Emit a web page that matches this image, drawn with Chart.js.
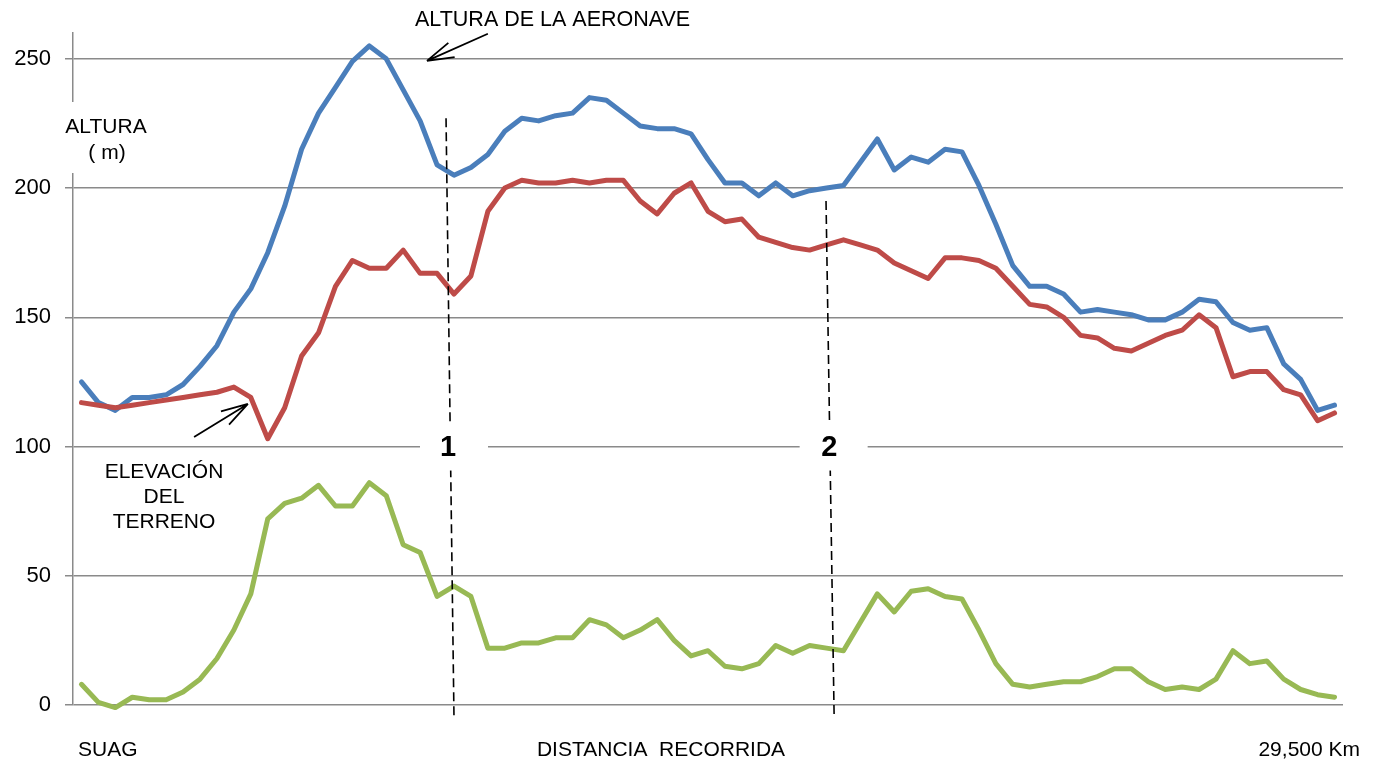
<!DOCTYPE html>
<html>
<head>
<meta charset="utf-8">
<script src="https://cdn.jsdelivr.net/npm/chart.js@4.4.1/dist/chart.umd.min.js"></script>
<style>
  body { margin: 0; background: #fff; }
  #caja { width: 1376px; height: 762px; }
</style>
</head>
<body>
<div id="caja"><canvas id="grafico"></canvas></div>
<script>
// puntos de muestreo a lo largo del recorrido SUAG -> 29,500 Km
const puntos = [1, 2, 3, 4, 5, 6, 7, 8, 9, 10, 11, 12, 13, 14, 15, 16, 17, 18, 19, 20,
  21, 22, 23, 24, 25, 26, 27, 28, 29, 30, 31, 32, 33, 34, 35, 36, 37, 38, 39, 40,
  41, 42, 43, 44, 45, 46, 47, 48, 49, 50, 51, 52, 53, 54, 55, 56, 57, 58, 59, 60,
  61, 62, 63, 64, 65, 66, 67, 68, 69, 70, 71, 72, 73, 74, 75];

const alturaAeronave = [125, 117, 114, 119, 119, 120, 124, 131, 139, 152,
  161, 175, 193, 215, 229, 239, 249, 255, 250, 238,
  226, 209, 205, 208, 213, 222, 227, 226, 228, 229,
  235, 234, 229, 224, 223, 223, 221, 211, 202, 202,
  197, 202, 197, 199, 200, 201, 210, 219, 207, 212,
  210, 215, 214, 201, 186, 170, 162, 162, 159, 152,
  153, 152, 151, 149, 149, 152, 157, 156, 148, 145,
  146, 132, 126, 114, 116];

const elevacionTerreno = [117, 116, 115, 116, 117, 118, 119, 120, 121, 123,
  119, 103, 115, 135, 144, 162, 172, 169, 169, 176,
  167, 167, 159, 166, 191, 200, 203, 202, 202, 203,
  202, 203, 203, 195, 190, 198, 202, 191, 187, 188,
  181, 179, 177, 176, 178, 180, 178, 176, 171, 168,
  165, 173, 173, 172, 169, 162, 155, 154, 150, 143,
  142, 138, 137, 140, 143, 145, 151, 146, 127, 129,
  129, 122, 120, 110, 113];

const alturaSobreTerreno = [8, 1, -1, 3, 2, 2, 5, 10, 18, 29,
  43, 72, 78, 80, 85, 77, 77, 86, 81, 62,
  59, 42, 46, 42, 22, 22, 24, 24, 26, 26,
  33, 31, 26, 29, 33, 25, 19, 21, 15, 14,
  16, 23, 20, 23, 22, 21, 32, 43, 36, 44,
  45, 42, 41, 29, 16, 8, 7, 8, 9, 9,
  11, 14, 14, 9, 6, 7, 6, 10, 21, 16,
  17, 10, 6, 4, 3];

const ticksAltura = [0, 50, 100, 150, 200, 250];

// lineas de trazos 1 y 2 (indice de punto, altura)
const marcas = [
  { texto: '1', arriba: [21.53, 227], abajo: [22.0, -5], caja: [22.0, 100], etiqueta: [21.65, 99.3] },
  { texto: '2', arriba: [43.97, 195], abajo: [44.45, -5], caja: [44.42, 100], etiqueta: [44.17, 99.3] }
];

// flechas: desde [indice, altura] hasta la punta
const flechas = [
  { desde: [24.0, 259.7], hasta: [20.4, 249.2] },
  { desde: [6.65, 103.7], hasta: [9.83, 116.5] }
];

const fuente = '"Liberation Sans", Arial, sans-serif';
const gris = '#8a8a8a';

function flecha(ctx, x1, y1, x2, y2) {
  const ang = Math.atan2(y1 - y2, x1 - x2);
  ctx.beginPath();
  ctx.moveTo(x1, y1);
  ctx.lineTo(x2, y2);
  [-0.28, 0.28].forEach(d => {
    ctx.moveTo(x2, y2);
    ctx.lineTo(x2 + 28 * Math.cos(ang + d), y2 + 28 * Math.sin(ang + d));
  });
  ctx.stroke();
}

const anotaciones = {
  id: 'anotaciones',
  afterDatasetsDraw(chart) {
    const { ctx, scales: { x, y } } = chart;
    ctx.save();

    ctx.strokeStyle = '#000';
    ctx.lineWidth = 1.6;
    ctx.setLineDash([9, 5]);
    marcas.forEach(m => {
      ctx.beginPath();
      ctx.moveTo(x.getPixelForValue(m.arriba[0]), y.getPixelForValue(m.arriba[1]));
      ctx.lineTo(x.getPixelForValue(m.abajo[0]), y.getPixelForValue(m.abajo[1]));
      ctx.stroke();
    });
    ctx.setLineDash([]);

    ctx.fillStyle = '#fff';
    marcas.forEach(m => {
      const cx = x.getPixelForValue(m.caja[0]);
      const cy = y.getPixelForValue(m.caja[1]);
      ctx.fillRect(cx - 34, cy - 24, 68, 48);
    });

    ctx.fillStyle = '#000';
    ctx.textAlign = 'center';
    ctx.textBaseline = 'middle';
    ctx.font = 'bold 29px ' + fuente;
    marcas.forEach(m => {
      ctx.fillText(m.texto, x.getPixelForValue(m.etiqueta[0]), y.getPixelForValue(m.etiqueta[1]));
    });

    ctx.lineWidth = 1.8;
    flechas.forEach(f => {
      flecha(ctx, x.getPixelForValue(f.desde[0]), y.getPixelForValue(f.desde[1]),
        x.getPixelForValue(f.hasta[0]), y.getPixelForValue(f.hasta[1]));
    });

    ctx.font = '21px ' + fuente;
    ctx.fillText('ELEVACIÓN', 164, 472);
    ctx.fillText('DEL', 164, 497);
    ctx.fillText('TERRENO', 164, 522);
    ctx.restore();
  },
  afterDraw(chart) {
    const { ctx } = chart;
    ctx.save();
    ctx.fillStyle = '#fff';
    ctx.fillRect(62, 102, 90, 71);
    ctx.fillStyle = '#000';
    ctx.textBaseline = 'middle';
    ctx.font = '21px ' + fuente;
    ctx.textAlign = 'center';
    ctx.fillText('ALTURA', 106, 127);
    ctx.fillText('( m)', 107, 153);
    ctx.fillText('DISTANCIA  RECORRIDA', 661, 750);
    ctx.textAlign = 'left';
    ctx.font = '21.5px ' + fuente;
    ctx.fillText('ALTURA DE LA AERONAVE', 415, 20);
    ctx.font = '21px ' + fuente;
    ctx.fillText('SUAG', 78, 750);
    ctx.textAlign = 'right';
    ctx.fillText('29,500 Km', 1360, 750);
    ctx.restore();
  }
};

new Chart(document.getElementById('grafico'), {
  type: 'line',
  data: {
    labels: puntos,
    datasets: [{
      label: 'Altura de la aeronave',
      data: alturaAeronave,
      borderColor: '#4a7ebb',
      order: 3
    }, {
      label: 'Elevación del terreno',
      data: elevacionTerreno,
      borderColor: '#be4b48',
      order: 2
    }, {
      label: 'Altura sobre el terreno',
      data: alturaSobreTerreno,
      borderColor: '#98b954',
      order: 1
    }]
  },
  options: {
    responsive: true,
    maintainAspectRatio: false,
    animation: false,
    layout: { padding: { left: 0, right: 33, top: 33, bottom: 57 } },
    elements: {
      line: { borderWidth: 5, tension: 0, borderJoinStyle: 'round', borderCapStyle: 'round', fill: false },
      point: { radius: 0, hoverRadius: 0 }
    },
    datasets: { line: { clip: false } },
    plugins: { legend: { display: false }, tooltip: { enabled: false } },
    scales: {
      x: { type: 'category', offset: true, display: false },
      y: {
        min: 0,
        max: 260,
        afterBuildTicks: s => { s.ticks = ticksAltura.map(v => ({ value: v })); },
        afterFit: s => { s.width = 73; },
        ticks: { color: '#000', font: { family: fuente, size: 22 }, padding: 14 },
        grid: { color: gris, lineWidth: 1.5, tickLength: 8 },
        border: { color: gris, width: 1.5 }
      }
    }
  },
  plugins: [anotaciones]
});
</script>
</body>
</html>
